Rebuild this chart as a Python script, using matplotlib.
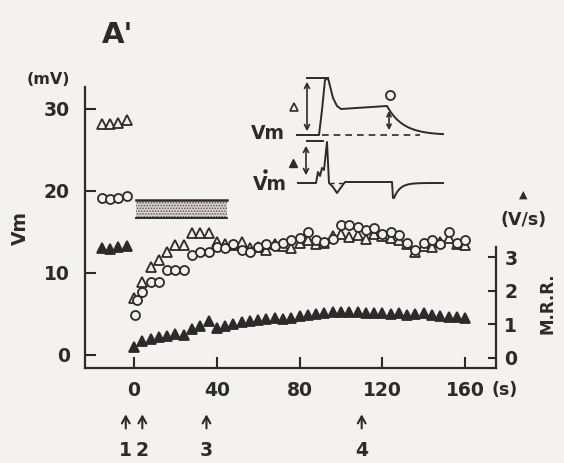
import numpy as np
import matplotlib.pyplot as plt

plt.rcParams['font.family'] = ['DejaVu Sans']
plt.rcParams['font.weight'] = 'bold'
plt.rcParams['hatch.linewidth'] = 0.8

INK = '#2b2b2b'
PAPER = '#f4f2ee'

# control period (before t = 0)
t_pre = [-15.5, -11.6, -7.7, -3.4]
amp_pre = [28.2, 28.2, 28.3, 28.7]      # open triangles, mV
plat_pre = [19.1, 19.0, 19.1, 19.4]     # open circles, mV
mrr_pre = [3.28, 3.25, 3.30, 3.35]      # filled triangles, V/s

# after t = 0
t_post = [0, 4, 8, 12, 16, 20, 24, 28, 32, 36, 40, 44, 48, 52, 56, 60, 64, 68, 72, 76,
          80, 84, 88, 92, 96, 100, 104, 108, 112, 116, 120, 124, 128, 132, 136, 140,
          144, 148, 152, 156, 160]
amp_post = [7.0, 8.9, 10.7, 11.6, 12.6, 13.4, 13.4, 14.9, 14.9, 14.9, 13.8, 13.5, 13.4,
            13.8, 13.0, 13.2, 12.8, 13.5, 13.3, 13.0, 13.6, 14.0, 13.5, 13.6, 14.5, 14.8,
            14.4, 14.6, 14.2, 14.8, 14.5, 14.3, 14.0, 13.5, 12.5, 13.3, 13.2, 13.8, 14.3,
            13.5, 13.4]
t_plat = [0.5, 1.5] + t_post[1:]
plat_post = [4.9, 6.7, 7.7, 8.9, 8.9, 10.4, 10.4, 10.4, 12.2, 12.6, 12.6, 13.2, 13.0,
             13.5, 12.8, 12.6, 13.2, 13.5, 13.3, 13.7, 14.0, 14.3, 15.0, 14.0, 13.8, 14.2,
             15.8, 15.9, 15.6, 15.2, 15.5, 14.8, 15.0, 14.6, 13.7, 12.8, 13.6, 14.0, 13.5,
             15.0, 13.7, 14.0]
mrr_post = [0.33, 0.50, 0.58, 0.63, 0.66, 0.72, 0.69, 0.85, 0.95, 1.10, 0.90, 0.95, 1.00,
            1.07, 1.10, 1.12, 1.15, 1.19, 1.17, 1.20, 1.25, 1.28, 1.30, 1.33, 1.36, 1.37,
            1.38, 1.36, 1.34, 1.35, 1.33, 1.30, 1.35, 1.28, 1.30, 1.34, 1.27, 1.25, 1.22,
            1.22, 1.20]

bar_t = [1, 45]          # stippled bar (time span, s)
bar_v = [16.7, 18.9]     # mV
stim_times = [-4, 4, 35, 110]
stim_labels = ['1', '2', '3', '4']

W, H = 564, 463


def px(x, y):
    return x / W, 1 - y / H


fig = plt.figure(figsize=(W / 100, H / 100), dpi=100, facecolor=PAPER)
ax = fig.add_axes([85 / W, 1 - 368 / H, (496 - 85) / W, (368 - 87) / H])
ax.set_facecolor('none')
ax2 = ax.twinx()

ax.set_xlim(-23.7, 174.9)
ax.set_ylim(-1.59, 32.68)
ax2.set_ylim(-0.30, 8.09)

# stippled bar
ax.fill_between(bar_t, bar_v[0], bar_v[1], facecolor='#dad3d1', hatch='......',
                edgecolor='#5a5454', linewidth=0)
ax.plot(bar_t, [bar_v[1]] * 2, color=INK, lw=1.8)
ax.plot(bar_t, [bar_v[0]] * 2, color=INK, lw=1.4)

mk = dict(linestyle='none', markeredgecolor=INK, markeredgewidth=1.3)
ax.plot(t_pre, amp_pre, marker='^', ms=6.5, mfc=PAPER, **mk)
ax.plot(t_pre, plat_pre, marker='o', ms=6.5, mfc=PAPER, **mk)
ax.plot(t_post, amp_post, marker='^', ms=6.5, mfc=PAPER, **mk)
ax.plot(t_plat, plat_post, marker='o', ms=6.5, mfc=PAPER, **mk)
ax2.plot(t_pre, mrr_pre, marker='^', ms=7, mfc=INK, **mk)
ax2.plot(t_post, mrr_post, marker='^', ms=7, mfc=INK, **mk)

# axes styling
for s in ['top', 'right']:
    ax.spines[s].set_visible(False)
for s in ['top', 'left', 'bottom']:
    ax2.spines[s].set_visible(False)
for s in ['left', 'bottom']:
    ax.spines[s].set_linewidth(1.6)
    ax.spines[s].set_color(INK)
ax2.spines['right'].set_linewidth(1.6)
ax2.spines['right'].set_color(INK)
ax2.spines['right'].set_bounds(-0.30, 3.3)

ax.set_xticks([0, 40, 80, 120, 160])
ax.set_yticks([0, 10, 20, 30])
ax2.set_yticks([0, 1, 2, 3])
ax.tick_params(axis='x', direction='in', length=8, width=1.5, pad=9.5,
               labelsize=13.5, colors=INK)
ax.tick_params(axis='y', direction='in', length=8, width=1.5, pad=11,
               labelsize=13.5, colors=INK)
ax2.tick_params(axis='y', direction='in', length=6, width=1.5, pad=6,
                labelsize=13.5, colors=INK)

# stimulus markers under the time axis
tr = ax.get_xaxis_transform()
for t, lab in zip(stim_times, stim_labels):
    ax.annotate('', xy=(t, -0.155), xytext=(t, -0.225), xycoords=tr,
                arrowprops=dict(arrowstyle='->,head_length=0.5,head_width=0.28',
                                lw=1.5, color=INK), annotation_clip=False)
    ax.text(t, -0.292, lab, transform=tr, ha='center', va='center',
            fontsize=13.5, color=INK)

# labels
fig.text(*px(102, 35), "A'", fontsize=21, ha='left', va='center', color=INK)
fig.text(*px(48, 80), '(mV)', fontsize=11.5, ha='center', va='center', color=INK)
fig.text(*px(20, 228), 'Vm', fontsize=13.5, rotation=90, ha='center', va='center',
         color=INK)
fig.text(*px(505, 390), '(s)', fontsize=12.5, ha='center', va='center', color=INK)
fig.text(*px(523, 195), '▲', fontsize=8, ha='center', va='center', color=INK)
fig.text(*px(524, 220), '(V/s)', fontsize=12.5, ha='center', va='center', color=INK)
fig.text(*px(547, 303), 'M.R.R.', fontsize=12, rotation=90, ha='center',
         va='center', color=INK)

# schematic of the recorded traces
ins = fig.add_axes([240 / W, 1 - 205 / H, 220 / W, 145 / H])
ins.set_xlim(240, 460)
ins.set_ylim(205, 60)
ins.axis('off')
lw = 1.4

# Vm trace
x_dec = np.linspace(387, 443, 40)
y_dec = 135 - 29 * np.exp(-(x_dec - 387) / 16)
vm_x = np.r_[297, 319, 322, 325, 328, 333, 337, 341, 387, x_dec[1:]]
vm_y = np.r_[135, 135, 110, 80, 78, 98, 106, 109, 106, y_dec[1:]]
ins.plot(vm_x, vm_y, color=INK, lw=lw)
ins.plot([307, 328], [78, 78], color=INK, lw=lw)
ins.plot([322, 420], [135, 135], color=INK, lw=1.2, ls=(0, (4, 3)))
ins.annotate('', xy=(307, 79), xytext=(307, 134),
             arrowprops=dict(arrowstyle='<->,head_length=0.35,head_width=0.18',
                             lw=1.2, color=INK))
ins.annotate('', xy=(389, 108), xytext=(389, 133),
             arrowprops=dict(arrowstyle='<->,head_length=0.3,head_width=0.15',
                             lw=1.2, color=INK))
ins.plot([390], [95], marker='o', ms=6.5, mfc=PAPER, mec=INK, mew=1.3)
ins.plot([294], [107], marker='^', ms=6, mfc=PAPER, mec=INK, mew=1.2)
ins.text(268, 133, 'Vm', fontsize=13.5, ha='center', va='center', color=INK)

# dVm/dt trace
x_rec = np.linspace(394, 443, 30)
y_rec = 183 + 15 * np.exp(-(x_rec - 394) / 6)
dv_x = np.r_[298, 316, 318, 320, 322, 324, 327, 329, 333, 337, 342, 345, 392, 393,
             x_rec]
dv_y = np.r_[183, 183, 172, 176, 168, 170, 142, 183, 187, 193, 186, 182, 182, 198,
             y_rec]
ins.plot(dv_x, dv_y, color=INK, lw=lw)
ins.plot([307, 323], [141, 141], color=INK, lw=lw)
ins.plot([330, 345], [183, 183], color=INK, lw=1.0, ls=(0, (3, 3)))
ins.annotate('', xy=(306, 143), xytext=(306, 178),
             arrowprops=dict(arrowstyle='<->,head_length=0.35,head_width=0.18',
                             lw=1.2, color=INK))
ins.plot([293], [163], marker='^', ms=6, mfc=INK, mec=INK, mew=1.0)
ins.text(270, 184, 'Vm', fontsize=13.5, ha='center', va='center', color=INK)
ins.plot([265], [171], marker='o', ms=2.2, color=INK)

fig.savefig('out.png', dpi=100, facecolor=PAPER)
